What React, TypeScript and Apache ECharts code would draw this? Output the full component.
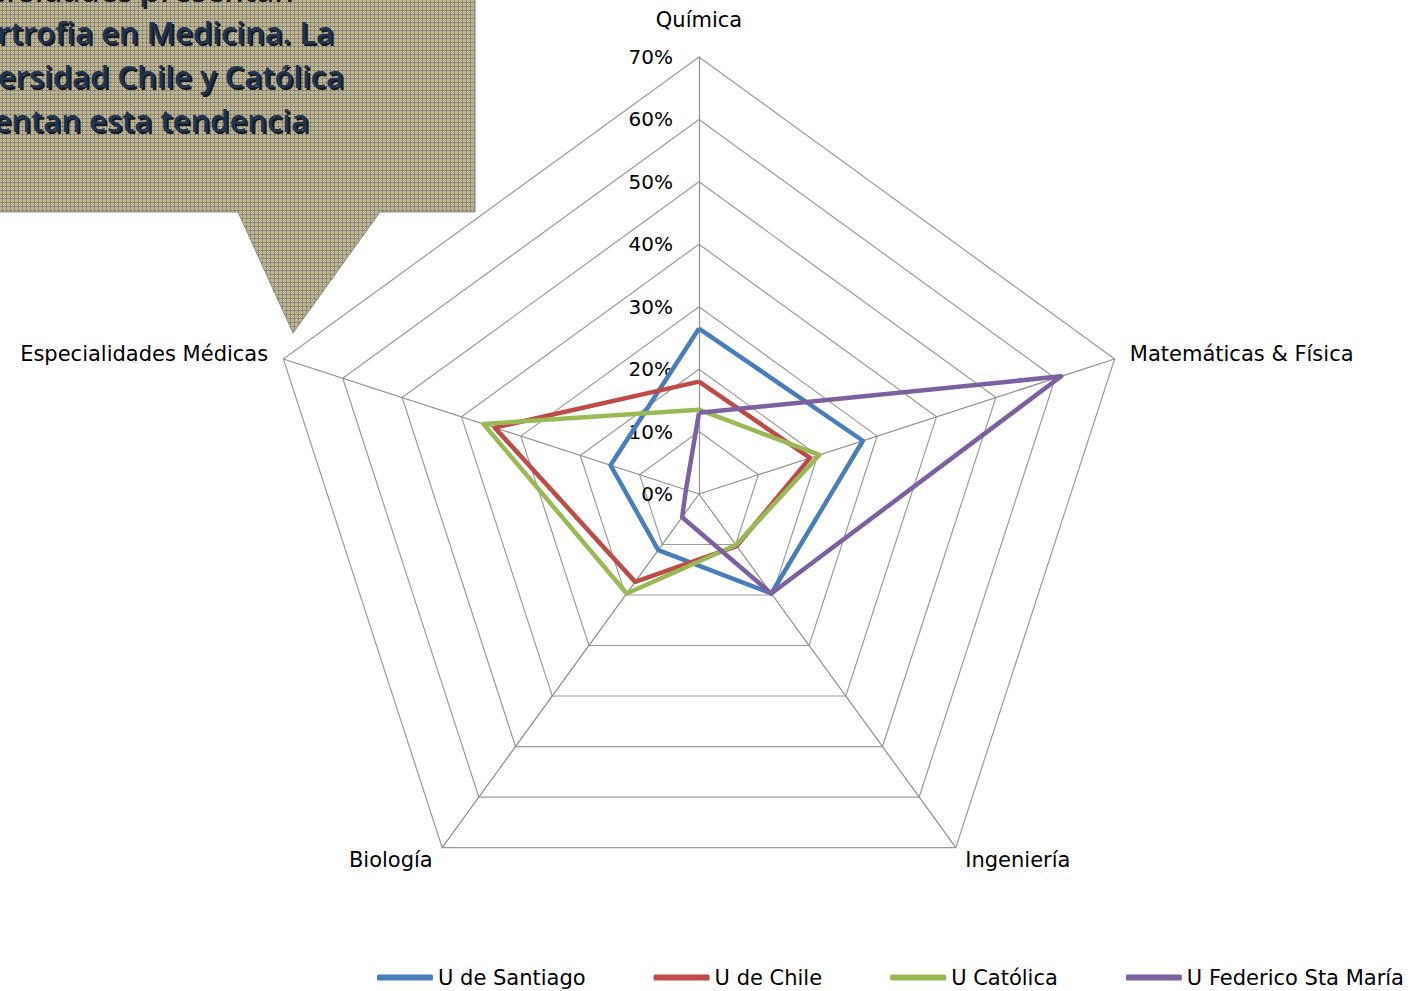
import React, { useEffect, useRef } from 'react';
import * as echarts from 'echarts';

// Categories in the order of the original sheet (clockwise from top)
const categories = ['Química', 'Matemáticas & Física', 'Ingeniería', 'Biología', 'Especialidades Médicas'];
const seriesNames = ['U de Santiago', 'U de Chile', 'U Católica', 'U Federico Sta María'];
const uSantiago = [26.5, 27.6, 19.7, 11.1, 14.9];
const uChile = [18, 18.7, 10.3, 17.4, 34.4];
const uCatolica = [13.5, 20.3, 10.1, 19.7, 36.3];
const uFedericoStaMaria = [13, 61, 19.7, 4.6, 2.2];
const axisMax = 70;
const splitCount = 7;
const seriesColors = ['#4a7ebb', '#be4b48', '#98b954', '#7d60a0'];
const calloutLines = [
  'Las universidades presentan',
  'hipertrofia en Medicina. La',
  'Universidad Chile y Católica',
  'presentan esta tendencia',
];

// ECharts radar runs counter-clockwise, so reorder to get the clockwise layout
const displayOrder = [0, 4, 3, 2, 1];

function makePattern() {
  const c = document.createElement('canvas');
  c.width = 4;
  c.height = 4;
  const g = c.getContext('2d');
  if (g) {
    for (let x = 0; x < 4; x++) {
      for (let y = 0; y < 4; y++) {
        let col = '#bebcb4';
        if (x === 0 || y === 0) col = '#b7ab7c';
        if (x === 0 && y === 0) col = '#d3b748';
        if (x === 2 && y === 2) col = '#666666';
        else if ((x === 2 && y !== 0) || (y === 2 && x !== 0)) col = '#8c8a84';
        g.fillStyle = col;
        g.fillRect(x, y, 1, 1);
      }
    }
  }
  return c;
}

export default function App() {
  const ref = useRef<HTMLDivElement>(null);
  useEffect(() => {
    if (!ref.current) return;
    const chart = echarts.init(ref.current, null, { renderer: 'svg' });
    const all = [uSantiago, uChile, uCatolica, uFedericoStaMaria];
    const font = 'DejaVu Sans';
    const calloutFont = '600 31px "Open Sans"';
    const textRightX = [292, 334, 344, 309];
    const textY = [-12, 32, 76, 120];
    const textEls: any[] = [];
    calloutLines.forEach((t, i) => {
      textEls.push({
        type: 'text',
        x: textRightX[i] + 2,
        y: textY[i] + 2,
        style: { text: t, fill: '#1a1a1a', font: calloutFont, align: 'right', verticalAlign: 'middle' },
        z: 10,
      });
      textEls.push({
        type: 'text',
        x: textRightX[i],
        y: textY[i],
        style: { text: t, fill: '#1f3352', font: calloutFont, align: 'right', verticalAlign: 'middle' },
        z: 11,
      });
    });
    chart.setOption({
      animation: false,
      backgroundColor: '#fff',
      legend: {
        data: seriesNames,
        left: 372,
        top: 962,
        width: 1100,
        icon: 'roundRect',
        itemWidth: 56,
        itemHeight: 6,
        itemGap: 68,
        textStyle: { fontSize: 21, fontFamily: font, color: '#000' },
      },
      radar: {
        center: [699, 494],
        radius: 437,
        startAngle: 90,
        splitNumber: splitCount,
        shape: 'polygon',
        nameGap: 16,
        axisName: {
          color: '#000',
          fontSize: 21,
          fontFamily: font,
          formatter: (name: string) => (name === categories[0] ? `{q|${name}}` : name),
          rich: { q: { fontSize: 21, fontFamily: font, color: '#000', padding: [0, 0, 11, 0] } },
        },
        indicator: displayOrder.map((k, j) => ({
          name: categories[k],
          min: 0,
          max: axisMax,
          ...(j === 0 ? { axisLabel: { show: true } } : {}),
        })),
        axisLine: { lineStyle: { color: '#8f8f8f', width: 1.2 } },
        splitLine: { lineStyle: { color: '#9c9c9c', width: 1.2 } },
        splitArea: { show: false },
        axisTick: { show: false },
        axisLabel: {
          show: false,
          formatter: (v: number) => v + '%',
          color: '#000',
          fontSize: 20,
          fontFamily: font,
          margin: 26,
        },
      },
      series: [
        {
          type: 'radar',
          symbol: 'none',
          data: all.map((vals, i) => ({
            name: seriesNames[i],
            value: displayOrder.map((k) => vals[k]),
            lineStyle: { color: seriesColors[i], width: 4.5 },
            itemStyle: { color: seriesColors[i] },
          })),
        },
      ],
      graphic: [
        {
          type: 'polygon',
          shape: {
            points: [
              [-10, -10],
              [475, -10],
              [475, 212],
              [380, 212],
              [293, 333],
              [238, 212],
              [-10, 212],
            ],
          },
          style: {
            fill: { type: 'pattern', image: makePattern(), repeat: 'repeat', imageWidth: 4, imageHeight: 4 } as any,
            stroke: '#8a8a8a',
            lineWidth: 1,
          },
          z: 9,
        },
        ...textEls,
      ],
    });
    return () => chart.dispose();
  }, []);
  return <div ref={ref} style={{ position: 'absolute', left: 0, top: 0, width: 1414, height: 991 }} />;
}
